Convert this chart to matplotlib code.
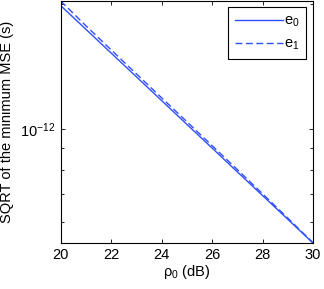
import matplotlib
matplotlib.use("Agg")
import matplotlib.pyplot as plt
from matplotlib.ticker import LogLocator, NullFormatter, FixedLocator

rho_db = [20, 21, 22, 23, 24, 25, 26, 27, 28, 29, 30]
e0 = [1.979e-12, 1.736e-12, 1.523e-12, 1.336e-12, 1.172e-12, 1.028e-12,
      9.02e-13, 7.91e-13, 6.94e-13, 6.09e-13, 5.34e-13]
e1 = [2.03e-12, 1.770e-12, 1.550e-12, 1.358e-12, 1.190e-12, 1.043e-12,
      9.14e-13, 8.01e-13, 7.01e-13, 6.13e-13, 5.35e-13]
xticks = [20, 22, 24, 26, 28, 30]

plt.rcParams['font.family'] = ['Liberation Sans', 'DejaVu Sans']
plt.rcParams['mathtext.fontset'] = 'custom'
plt.rcParams['mathtext.rm'] = 'Liberation Sans'
plt.rcParams['mathtext.it'] = 'Liberation Sans'
plt.rcParams['mathtext.default'] = 'regular'

fig = plt.figure(figsize=(3.24, 2.89), dpi=100)
ax = fig.add_axes([0.187, 0.159, 0.779, 0.838])

blue = "#3050ff"
ax.plot(rho_db, e0, color=blue, lw=1.0, label="e$_0$")
ax.plot(rho_db, e1, color=blue, lw=1.0, ls=(0, (5, 2.5)), label="e$_1$")

ax.set_yscale("log")
ax.set_xlim(20, 30)
ax.set_ylim(5.34e-13, 2.03e-12)
ax.set_xticks(xticks)
ax.set_xticklabels([str(t) for t in xticks])
ax.yaxis.set_major_locator(FixedLocator([1e-12]))
ax.set_yticklabels([r"$10^{-12}$"])
ax.yaxis.set_minor_locator(LogLocator(base=10, subs=range(2, 10)))
ax.yaxis.set_minor_formatter(NullFormatter())

ax.tick_params(which="both", direction="in", top=True, right=True, labelsize=10.5)
ax.tick_params(which="major", length=3, width=0.6)
ax.tick_params(which="minor", length=2, width=0.6)
for s in ax.spines.values():
    s.set_linewidth(0.8)

ax.set_xlabel(r"$\rho_0$ (dB)", fontsize=10.5, labelpad=1)
ax.set_ylabel("SQRT of the minimum MSE (s)", fontsize=10.5, labelpad=5)

leg = ax.legend(loc="upper right", fontsize=10.5, fancybox=False, framealpha=1,
                edgecolor="black", handlelength=3.3, handletextpad=0.1,
                borderaxespad=0.45, labelspacing=0.5, borderpad=0.45)
leg.get_frame().set_linewidth(0.8)

fig.savefig("out.png", dpi=100)
